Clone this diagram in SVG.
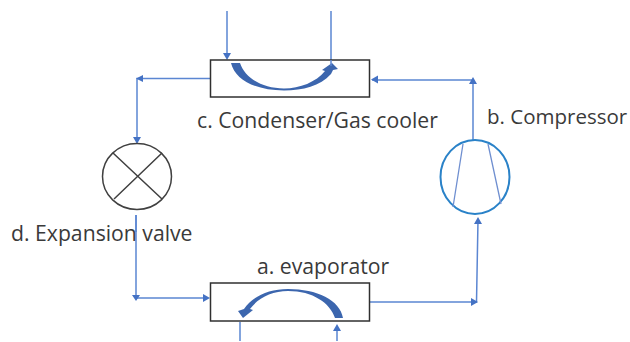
<svg xmlns="http://www.w3.org/2000/svg" width="630" height="342" viewBox="0 0 630 342">
<style>
text{font-family:"Open Sans","Noto Sans",sans-serif;font-size:21.200px;fill:#3a3a3a}
.l{fill:none;stroke:#5b86d2;stroke-width:1.5}
.a{fill:#4472c4}
.b{fill:#fff;stroke:#303030;stroke-width:1.5}
.t{fill:#3c66ae}
</style>
<rect width="630" height="342" fill="#fff"/>
<g id="connectors">
<path class="l" d="M227 11V56M331 11V64"/>
<path class="a" d="M223 53h8l-4 7z"/>
<path class="l" d="M210 78.500H137V142"/>
<path class="a" d="M143 75l-7 3.500 7 3.500zM133 137h8l-4 7z"/>
<path class="l" d="M136 215V298H205"/>
<path class="a" d="M132 295h8l-4 6zM203 294l7 4-7 4z"/>
<path class="l" d="M370 302H476.500L478 220"/>
<path class="a" d="M471 298l7 4-7 4zM474 224l4-7 4 7z"/>
<path class="l" d="M473 140V80H372"/>
<path class="a" d="M469 84l4-7 4 7zM378 75.500l-7 4 7 4z"/>
<path class="l" d="M240 322V341M337 330V341"/>
<path class="a" d="M333 331l4-7 4 7z"/>
</g>
<g id="c-condenser">
<rect class="b" x="210.500" y="60" width="159" height="37"/>
<path class="t" d="M231 63C235 80 256 90.500 284 90.500C303 90.500 320 86 331 74L333 70L338 69L332 63L322 70L325 71C316 82 300 88.500 284 88.500C262 88.500 245 78 240 63Z"/>
<path class="l" d="M331 60V66"/>
<text x="197" y="128">c. Condenser/Gas cooler</text>
</g>
<g id="a-evaporator">
<rect class="b" x="210.500" y="283" width="159" height="38"/>
<path class="t" d="M343 318C340 300 317 289 288 289C268 289 252 297 244 309L238 311L243 318L253 310L250 309C258 298 272 291 288 291C313 291 330 303 335 318Z"/>
<text x="257" y="273.500">a. evaporator</text>
</g>
<g id="b-compressor">
<ellipse cx="475" cy="177" rx="34.500" ry="37" fill="#fff" stroke="#2a82c8" stroke-width="2"/>
<path d="M463 144L453 207M488 144L501 204" fill="none" stroke="#6f8fd0" stroke-width="1.300"/>
<text x="487" y="123.500" style="font-size:20.500px">b. Compressor</text>
</g>
<g id="d-expansion-valve">
<ellipse cx="137" cy="176.500" rx="34.500" ry="33" fill="#fff" stroke="#404040" stroke-width="1.500"/>
<path d="M113 153L162 199M162 153L114 199" fill="none" stroke="#404040" stroke-width="1.500"/>
<text x="11" y="240.500">d. Expansion valve</text>
</g>
<path class="l" d="M136 215V232"/>
</svg>
